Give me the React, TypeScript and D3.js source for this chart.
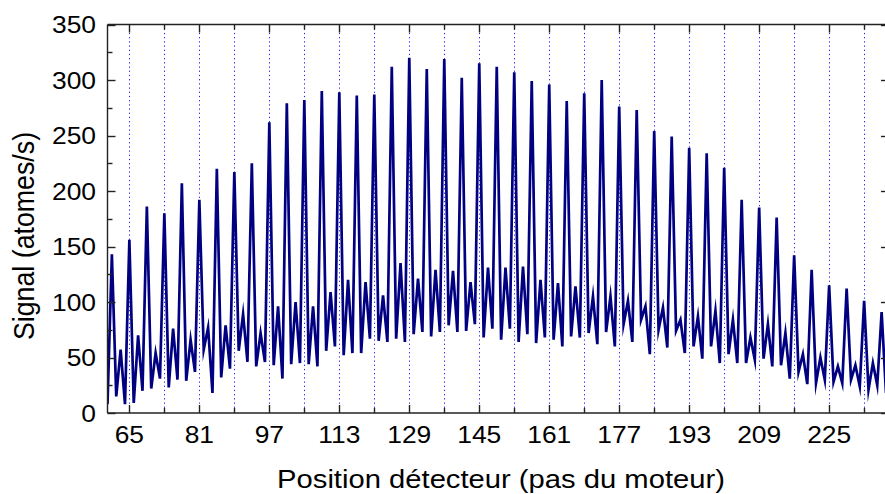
import React from "react";
import * as d3 from "d3";

const positions: number[] = d3.range(60, 239);
const signal: number[] = [
  8, 143, 15, 57, 8, 156, 9, 70, 20, 186,
  22, 54, 31, 180, 23, 76, 30, 207, 29, 66,
  37, 192, 57, 77, 18, 220, 32, 79, 40, 217,
  56, 89, 46, 225, 42, 72, 46, 262, 43, 96,
  31, 279, 44, 100, 45, 282, 44, 96, 42, 290,
  56, 109, 60, 289, 52, 120, 54, 286, 54, 118,
  67, 287, 65, 106, 64, 312, 67, 135, 64, 320,
  71, 121, 73, 310, 69, 129, 73, 319, 79, 128,
  73, 302, 74, 118, 80, 315, 68, 131, 76, 312,
  66, 131, 76, 307, 64, 132, 71, 299, 63, 120,
  68, 296, 66, 117, 60, 281, 69, 114, 68, 288,
  72, 105, 62, 300, 73, 105, 60, 276, 80, 101,
  64, 273, 84, 96, 53, 254, 75, 95, 59, 249,
  74, 84, 54, 239, 60, 87, 49, 234, 60, 92,
  45, 221, 53, 84, 45, 192, 45, 68, 48, 185,
  49, 80, 42, 176, 43, 72, 31, 142, 37, 53,
  26, 129, 27, 50, 30, 115, 28, 42, 27, 112,
  30, 43, 24, 101, 21, 45, 25, 91, 18,
];
const xTicks: number[] = d3.range(65, 234, 8);
const xLabels: number[] = d3.range(65, 226, 16);
const yTicksMinor: number[] = d3.range(0, 351, 25);
const yLabels: number[] = d3.range(0, 351, 50);

const W = 885;
const H = 494;
const M = { left: 107.5, top: 24.5, right: 886, bottom: 413 };
const SX = 1.1;

export default function App() {
  const x = d3.scaleLinear().domain([60, 238]).range([M.left, M.right]);
  const y = d3.scaleLinear().domain([0, 350]).range([M.bottom, M.top]);
  const data = positions.map((p, i) => [p, signal[i]] as [number, number]);
  const line = d3
    .line<[number, number]>()
    .x((d) => x(d[0]))
    .y((d) => y(d[1]));
  const font = "'Liberation Sans', Arial, sans-serif";

  return (
    <svg
      width={W}
      height={H}
      style={{ position: "absolute", left: 0, top: 0, background: "#fff" }}
      fontFamily={font}
    >
      <defs>
        <clipPath id="plot">
          <rect x={M.left} y={M.top} width={M.right - M.left} height={M.bottom - M.top} />
        </clipPath>
      </defs>
      {xTicks.map((t) => (
        <line
          key={"g" + t}
          x1={Math.round(x(t)) + 0.5}
          x2={Math.round(x(t)) + 0.5}
          y1={M.top}
          y2={M.bottom}
          stroke="#1a1aff"
          strokeWidth={1}
          strokeDasharray="1.2,3"
        />
      ))}
      <path
        d={line(data) || ""}
        fill="none"
        stroke="#000080"
        strokeWidth={2.7}
        strokeLinejoin="miter"
        strokeMiterlimit={10}
        clipPath="url(#plot)"
      />
      <line x1={M.left} x2={M.right} y1={M.top} y2={M.top} stroke="#222" strokeWidth={1.4} />
      <line x1={M.left} x2={M.right} y1={M.bottom} y2={M.bottom} stroke="#222" strokeWidth={1.4} />
      <line x1={M.left} x2={M.left} y1={M.top} y2={M.bottom} stroke="#222" strokeWidth={1.4} />
      <line x1={M.right} x2={M.right} y1={M.top} y2={M.bottom} stroke="#222" strokeWidth={1.4} />
      {xTicks.map((t) => {
        const major = xLabels.includes(t);
        const len = major ? 8 : 5;
        const px = Math.round(x(t)) + 0.5;
        return (
          <g key={"xt" + t}>
            <line x1={px} x2={px} y1={M.bottom} y2={M.bottom - len} stroke="#222" strokeWidth={1.4} />
            <line x1={px} x2={px} y1={M.top} y2={M.top + len} stroke="#222" strokeWidth={1.4} />
          </g>
        );
      })}
      {xLabels.map((t) => (
        <text
          key={"xl" + t}
          transform={`translate(${x(t)}, 443) scale(${SX}, 1)`}
          textAnchor="middle"
          fontSize={24}
          fill="#000"
        >
          {t}
        </text>
      ))}
      {yTicksMinor.map((t) => {
        const major = yLabels.includes(t);
        const len = major ? 8 : 5;
        const py = Math.round(y(t)) + 0.5;
        return (
          <g key={"yt" + t}>
            <line x1={M.left} x2={M.left + len} y1={py} y2={py} stroke="#222" strokeWidth={1.4} />
            {major && (
              <line x1={M.right} x2={M.right - 5} y1={py} y2={py} stroke="#222" strokeWidth={1.4} />
            )}
          </g>
        );
      })}
      {yLabels.map((t) => (
        <text
          key={"yl" + t}
          transform={`translate(96, ${y(t)}) scale(${SX}, 1)`}
          dy="0.36em"
          textAnchor="end"
          fontSize={24}
          fill="#000"
        >
          {t}
        </text>
      ))}
      <text
        transform={`translate(501, 488) scale(1.145, 1)`}
        textAnchor="middle"
        fontSize={25.5}
        fill="#000"
      >
        Position détecteur (pas du moteur)
      </text>
      <text
        transform={`translate(34, 236) rotate(-90) scale(1.01, 1.1)`}
        textAnchor="middle"
        fontSize={26.5}
        fill="#000"
      >
        Signal (atomes/s)
      </text>
    </svg>
  );
}
